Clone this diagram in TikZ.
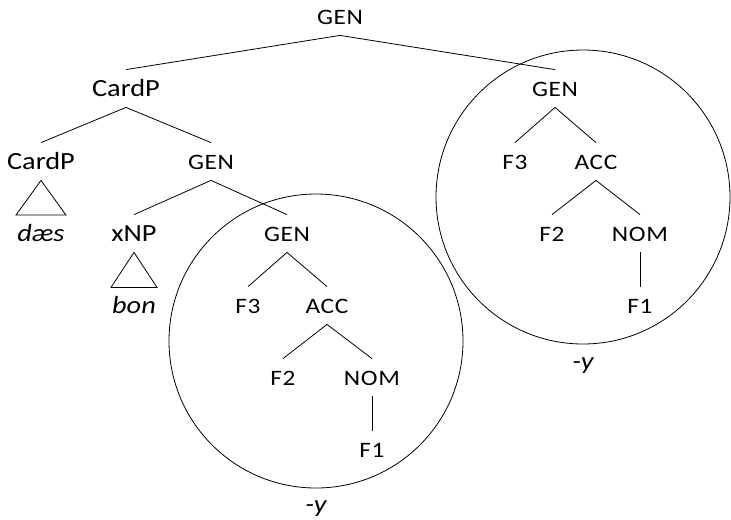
\documentclass[tikz,border=0pt]{standalone}
\usepackage{fontspec}
\setmainfont[FakeStretch=1.15]{Carlito}
\newfontfamily\featfont[FakeStretch=1.15, LetterSpace=3]{Carlito}
\usetikzlibrary{positioning}

\tikzset{
  cat/.style={font=\fontsize{18.5}{22}\selectfont, inner xsep=2pt, inner ysep=5.5pt,
    text height=14pt, text depth=2.75pt, anchor=base},
  feat/.style={cat, font=\featfont\fontsize{16.5}{20}\selectfont},
  leaf/.style={cat, font=\fontsize{18.5}{22}\selectfont\itshape},
  ring/.style={draw, circle, minimum size=220.5pt, inner sep=0pt},
}

\begin{document}
\begin{tikzpicture}[x=0.75pt, y=-0.75pt, line width=0.6pt]
\useasboundingbox (0,0) rectangle (731,519);
% upper part of the tree
\node[feat] (gen) at (340,24) {GEN};
\node[cat] (cardp) at (126,96) {CardP};
\node[feat] (genR) at (555,96) {GEN};
\node[cat] (cardpL) at (41,169) {CardP};
\node[feat] (genM) at (211,169) {GEN};
\node[cat] (xnp) at (134,241) {xNP};
\node[feat] (genL) at (287,241) {GEN};
\draw (gen.south) -- (cardp.north);
\draw (gen.south) -- (genR.north);
\draw (cardp.south) -- (cardpL.north);
\draw (cardp.south) -- (genM.north);
\draw (genM.south) -- (xnp.north);
\draw (genM.south) -- (genL.north);
% triangles
\node[leaf, below=26pt of cardpL] (daes) {dæs};
\node[leaf, below=26.25pt of xnp] (bon) {bon};
\draw (cardpL.south) -- ([xshift=-18.75pt]daes.north) -- ([xshift=18.75pt]daes.north) -- cycle;
\draw (xnp.south) -- ([xshift=-17.25pt]bon.north) -- ([xshift=17.25pt]bon.north) -- cycle;
% lower circled spine
\node[feat] (f3L) at (248,313) {F3};
\node[feat] (accL) at (327,313) {ACC};
\node[feat] (f2L) at (283,385) {F2};
\node[feat] (nomL) at (372,385) {NOM};
\node[feat] (f1L) at (372,457) {F1};
\draw (genL.south) -- (f3L.north);
\draw (genL.south) -- (accL.north);
\draw (accL.south) -- (f2L.north);
\draw (accL.south) -- (nomL.north);
\draw (nomL.south) -- (f1L.north);
\node[ring] (ringL) at (316,341) {};
\node[leaf, below=-2pt of ringL] (yL) {-y};
% right circled spine
\node[feat] (f3R) at (515,169) {F3};
\node[feat] (accR) at (596,169) {ACC};
\node[feat] (f2R) at (552,241) {F2};
\node[feat] (nomR) at (640,241) {NOM};
\node[feat] (f1R) at (640,313) {F1};
\draw (genR.south) -- (f3R.north);
\draw (genR.south) -- (accR.north);
\draw (accR.south) -- (f2R.north);
\draw (accR.south) -- (nomR.north);
\draw (nomR.south) -- (f1R.north);
\node[ring] (ringR) at (583,197) {};
\node[leaf, below=-1pt of ringR] (yR) {-y};
\end{tikzpicture}
\end{document}
